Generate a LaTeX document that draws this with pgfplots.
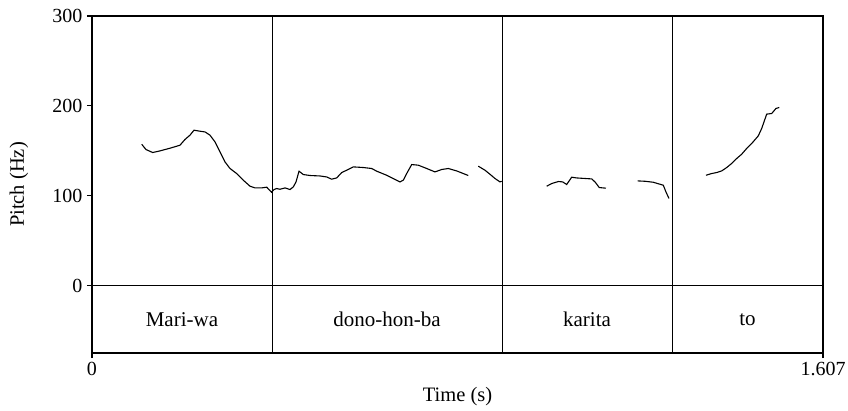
\documentclass[border=0pt]{standalone}
\usepackage{fontspec}
\setmainfont{Liberation Serif}
\usepackage{pgfplots}
\pgfplotsset{compat=1.18}
\usetikzlibrary{calc}
\begin{document}
\begin{tikzpicture}
\begin{axis}[
  scale only axis,
  width=731pt, height=337pt,
  xmin=0, xmax=1.607, ymin=-75, ymax=300,
  axis line style={line width=1.3pt},
  xtick={0,1.607}, xticklabels={0,1.607},
  ytick={0,100,200,300}, yticklabels={0,100,200,300},
  tick align=outside, tick pos=left,
  major tick length=5pt,
  tick style={line width=1.1pt, black},
  tick label style={font=\fontsize{20}{23}\selectfont},
  xticklabel style={yshift=-1pt},
  yticklabel style={xshift=-1pt},
  xlabel={Time (s)}, ylabel={Pitch (Hz)},
  xlabel style={font=\fontsize{20.5}{23}\selectfont, at={($(rel axis cs:0.5,0)+(0,-44pt)$)}, anchor=center},
  ylabel style={font=\fontsize{20.5}{23}\selectfont, at={($(rel axis cs:0,0.5)+(-73pt,0)$)}, anchor=center, rotate=0},
  clip=false,
]
% tier boundaries
\addplot[black, line width=0.8pt, forget plot] coordinates {(0,0) (1.607,0)};
\addplot[black, line width=0.8pt, forget plot] coordinates {(0.3957,-75) (0.3957,300)};
\addplot[black, line width=0.8pt, forget plot] coordinates {(0.9013,-75) (0.9013,300)};
\addplot[black, line width=0.8pt, forget plot] coordinates {(1.275,-75) (1.275,300)};
% pitch
\addplot[black, line width=1.1pt] coordinates {
(0.1093,157.3) (0.1187,151.4) (0.1334,148.1) (0.1495,149.9) (0.1715,152.9) (0.1934,156.2)
(0.2044,162.6) (0.2154,167.4) (0.2242,172.9) (0.2374,171.8) (0.2484,171.0) (0.2594,167.4)
(0.2704,159.9) (0.2814,148.8) (0.2924,137.6) (0.3034,130.3) (0.3181,124.7) (0.3326,117.3)
(0.3474,110.6) (0.3583,108.7) (0.3731,108.7) (0.3840,109.5) (0.3891,106.9) (0.3946,103.9)
(0.4001,106.9) (0.4060,108.0) (0.4133,107.2) (0.4243,108.7) (0.4353,106.9) (0.4425,109.8)
(0.4485,115.4) (0.4551,127.3) (0.4645,123.6) (0.4792,122.5) (0.5012,122.0) (0.5159,120.9)
(0.5269,118.4) (0.5379,119.8) (0.5489,125.8) (0.5599,128.4) (0.5744,132.1) (0.5964,131.4)
(0.6149,130.3) (0.6259,127.3) (0.6478,122.8) (0.6771,115.4) (0.6843,117.3) (0.6918,124.7)
(0.7028,134.7) (0.7173,134.0) (0.7358,130.3) (0.7540,126.5) (0.7688,129.2) (0.7833,130.3)
(0.8017,127.6) (0.8162,124.7) (0.8272,122.5)
};
\addplot[black, line width=1.1pt] coordinates {
(0.8492,132.9) (0.8639,128.4) (0.8749,123.9) (0.8859,119.2) (0.8969,115.4) (0.9006,116.1)
};
\addplot[black, line width=1.1pt] coordinates {
(0.9996,110.6) (1.0106,113.6) (1.0251,115.8) (1.0347,115.4) (1.0435,112.5) (1.0545,120.6)
(1.0655,119.8) (1.0838,119.2) (1.0985,118.7) (1.1057,115.4) (1.1152,109.1) (1.1299,108.4)
};
\addplot[black, line width=1.1pt] coordinates {
(1.1996,116.5) (1.2157,116.1) (1.2339,115.0) (1.2559,111.7) (1.2618,104.2) (1.2684,96.9)
};
\addplot[black, line width=1.1pt] coordinates {
(1.3497,122.8) (1.3623,124.7) (1.3733,125.8) (1.3843,127.6) (1.3953,131.4) (1.4062,135.9)
(1.4172,141.4) (1.4282,146.2) (1.4392,152.6) (1.4502,158.1) (1.4647,166.6) (1.4722,174.8)
(1.4832,190.8) (1.4942,191.5) (1.5036,197.1) (1.5109,198.2)
};
\node[font=\fontsize{21}{24}\selectfont] at (axis cs:0.1978,-38) {Mari-wa};
\node[font=\fontsize{21}{24}\selectfont] at (axis cs:0.6485,-38) {dono-hon-ba};
\node[font=\fontsize{21}{24}\selectfont] at (axis cs:1.0882,-38) {karita};
\node[font=\fontsize{21}{24}\selectfont] at (axis cs:1.441,-38) {to};
\end{axis}
\pgfresetboundingbox
\path[use as bounding box] ($(current axis.south west)+(-92pt,-57pt)$) rectangle ($(current axis.north east)+(25pt,16pt)$);
\end{tikzpicture}
\end{document}
